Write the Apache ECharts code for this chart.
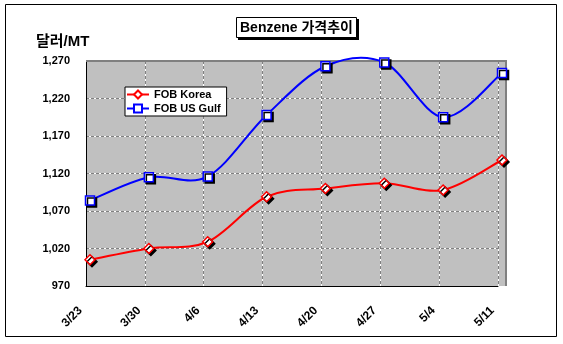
<!DOCTYPE html>
<html>
<head>
<meta charset="utf-8">
<script src="https://cdn.jsdelivr.net/npm/echarts@6/dist/echarts.min.js"></script>
<style>html,body{margin:0;padding:0;background:#fff;}#c{width:563px;height:344px;}</style>
</head>
<body>
<div id="c"></div>
<script>
const categories = ['3/23', '3/30', '4/6', '4/13', '4/20', '4/27', '5/4', '5/11'];
const korea = [1005, 1020, 1029, 1089, 1100, 1107, 1098, 1138];
const usGulf = [1084, 1115, 1116, 1198, 1263, 1268, 1195, 1254];
const seriesNames = ['FOB Korea', 'FOB US Gulf'];
const yMin = 970, yMax = 1270, yStep = 50;
const titleText = 'Benzene 가격추이';
const yUnit = '달러/MT';

const FONT = "'Liberation Sans', Arial, 'Noto Sans CJK KR', sans-serif";
const chart = echarts.init(document.getElementById('c'), null, {renderer: 'canvas'});

const fmt = v => v.toLocaleString('en-US');
const shadow = {shadowColor: '#000', shadowBlur: 0.5, shadowOffsetX: 2, shadowOffsetY: 2};

// Excel-style smoothed curve (Catmull-Rom through points mapped by the axis scales)
function smoothCurve(values, color) {
  return function (params, api) {
    const i = params.dataIndex;
    const n = values.length;
    if (i >= n - 1) return null;
    const P = k => api.coord([categories[Math.max(0, Math.min(n - 1, k))], values[Math.max(0, Math.min(n - 1, k))]]);
    const p0 = P(i - 1), p1 = P(i), p2 = P(i + 1), p3 = P(i + 2);
    return {
      type: 'bezierCurve',
      shape: {
        x1: p1[0], y1: p1[1], x2: p2[0], y2: p2[1],
        cpx1: p1[0] + (p2[0] - p0[0]) / 6, cpy1: p1[1] + (p2[1] - p0[1]) / 6,
        cpx2: p2[0] - (p3[0] - p1[0]) / 6, cpy2: p2[1] - (p3[1] - p1[1]) / 6
      },
      style: {stroke: color, lineWidth: 2, fill: null, lineCap: 'round'}
    };
  };
}

const option = {
  animation: false,
  backgroundColor: '#fff',
  grid: [
    {left: 86, top: 61, width: 420, height: 225, show: false},
    {left: 86, top: 61, width: 412, height: 225, show: false},
    {left: 90, top: 61, width: 412, height: 225, show: false}
  ],
  xAxis: [
    {gridIndex: 0, type: 'value', show: false, min: 0, max: 1},
    {gridIndex: 1, type: 'category', data: categories, boundaryGap: false,
      axisLine: {show: true, lineStyle: {color: '#000', width: 1}},
      axisTick: {show: false},
      axisLabel: {rotate: 45, margin: 17, padding: [0, 8, 0, 0], color: '#000', fontFamily: FONT, fontWeight: 'bold', fontSize: 12},
      splitLine: {show: true, lineStyle: {color: '#ffffff', width: 1, type: 'solid'}}},
    {gridIndex: 1, type: 'category', data: categories, boundaryGap: false,
      axisLine: {show: false}, axisTick: {show: false}, axisLabel: {show: false},
      splitLine: {show: true, lineStyle: {color: '#808080', width: 1, type: [3, 2]}}},
    {gridIndex: 2, type: 'category', data: categories, boundaryGap: false, show: false}
  ],
  yAxis: [
    {gridIndex: 0, type: 'value', show: false, min: 0, max: 1},
    {gridIndex: 1, type: 'value', min: yMin, max: yMax, interval: yStep,
      axisLine: {show: true, lineStyle: {color: '#000', width: 1}},
      axisTick: {show: false},
      axisLabel: {margin: 16, color: '#000', fontFamily: FONT, fontWeight: 'bold', fontSize: 11, formatter: fmt},
      splitLine: {show: true, lineStyle: {color: '#ffffff', width: 1, type: 'solid'}}},
    {gridIndex: 1, type: 'value', min: yMin, max: yMax, interval: yStep,
      axisLine: {show: false}, axisTick: {show: false}, axisLabel: {show: false},
      splitLine: {show: true, lineStyle: {color: '#808080', width: 1, type: [3, 2]}}},
    {gridIndex: 2, type: 'value', min: yMin, max: yMax, interval: yStep, show: false}
  ],
  legend: {
    data: seriesNames,
    orient: 'vertical',
    left: 125, top: 87,
    backgroundColor: '#fff',
    borderColor: '#000', borderWidth: 1, borderRadius: 0,
    padding: [2, 6, 2, 1],
    itemGap: 3, itemWidth: 22, itemHeight: 10,
    lineStyle: {opacity: 1, width: 2},
    itemStyle: {shadowBlur: 0, shadowOffsetX: 0, shadowOffsetY: 0, shadowColor: 'transparent'},
    textStyle: {color: '#000', fontFamily: FONT, fontWeight: 'bold', fontSize: 11},
    z: 10
  },
  series: [
    {name: seriesNames[0] + ' curve', type: 'custom', xAxisIndex: 3, yAxisIndex: 3, z: 4,
      data: korea.map((v, i) => [categories[i], v]), renderItem: smoothCurve(korea, '#ff0000'), silent: true},
    {name: seriesNames[1] + ' curve', type: 'custom', xAxisIndex: 3, yAxisIndex: 3, z: 4,
      data: usGulf.map((v, i) => [categories[i], v]), renderItem: smoothCurve(usGulf, '#0000ff'), silent: true},
    {name: seriesNames[0], type: 'line', xAxisIndex: 3, yAxisIndex: 3, data: korea,
      clip: false, z: 5,
      symbol: 'diamond', symbolSize: 10,
      lineStyle: {color: '#ff0000', width: 2, opacity: 0},
      itemStyle: Object.assign({color: '#ffffff', borderColor: '#ff0000', borderWidth: 1.5}, shadow)},
    {name: seriesNames[1], type: 'line', xAxisIndex: 3, yAxisIndex: 3, data: usGulf,
      clip: false, z: 5,
      symbol: 'rect', symbolSize: 9,
      lineStyle: {color: '#0000ff', width: 2, opacity: 0},
      itemStyle: Object.assign({color: '#ffffff', borderColor: '#0000ff', borderWidth: 1.5}, shadow)}
  ],
  graphic: [
    {type: 'rect', z: -10, silent: true, shape: {x: 86, y: 61, width: 420, height: 225}, style: {fill: '#c0c0c0'}},
    {type: 'line', z: 1, silent: true, shape: {x1: 86, y1: 61, x2: 507, y2: 61}, style: {stroke: '#808080', lineWidth: 2}},
    {type: 'line', z: 1, silent: true, shape: {x1: 506, y1: 61, x2: 506, y2: 286}, style: {stroke: '#808080', lineWidth: 2}},
    {type: 'rect', silent: true, shape: {x: 5.5, y: 4.5, width: 551, height: 332}, style: {fill: null, stroke: '#000', lineWidth: 1}},
    {type: 'rect', silent: true, shape: {x: 238, y: 19, width: 121, height: 21}, style: {fill: '#000'}},
    {type: 'rect', silent: true, shape: {x: 236.5, y: 17.5, width: 120, height: 20}, style: {fill: '#fff', stroke: '#000', lineWidth: 1}},
    {type: 'text', silent: true, x: 296.5, y: 28, style: {text: titleText, fill: '#000', font: 'bold 14px ' + FONT, textAlign: 'center', textVerticalAlign: 'middle'}},
    {type: 'text', silent: true, x: 36, y: 42, style: {text: yUnit, fill: '#000', font: 'bold 15px ' + FONT, textAlign: 'left', textVerticalAlign: 'middle'}}
  ]
};
chart.setOption(option);
</script>
</body>
</html>
